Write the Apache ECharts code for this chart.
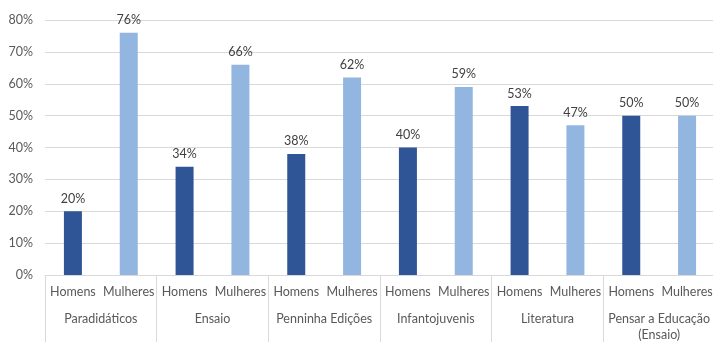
<!DOCTYPE html>
<html>
<head>
<meta charset="utf-8">
<script src="https://cdn.jsdelivr.net/npm/echarts@6/dist/echarts.min.js"></script>
<style>
  html, body { margin: 0; padding: 0; background: #fff; }
  #chart { width: 713px; height: 342px; }
</style>
</head>
<body>
<div id="chart"></div>
<script>
// Share of authors by gender in each publishing line
const groups = ['Paradidáticos', 'Ensaio', 'Penninha Edições', 'Infantojuvenis', 'Literatura', 'Pensar a Educação\n(Ensaio)'];
const genders = ['Homens', 'Mulheres'];
const homens = [20, 34, 38, 40, 53, 50];
const mulheres = [76, 66, 62, 59, 47, 50];
const yTicks = [0, 10, 20, 30, 40, 50, 60, 70, 80];

const colors = { Homens: '#2F5597', Mulheres: '#93B6E0' };
const font = 'Lato, "Open Sans", sans-serif';

// One category per (group, gender) pair, in reading order
const categories = [];
const values = [];
groups.forEach((g, i) => {
  categories.push(genders[0]);
  values.push({ value: homens[i], itemStyle: { color: colors.Homens } });
  categories.push(genders[1]);
  values.push({ value: mulheres[i], itemStyle: { color: colors.Mulheres } });
});

const chart = echarts.init(document.getElementById('chart'), null, { renderer: 'canvas' });
chart.setOption({
  animation: false,
  grid: { left: 45, right: -2, top: 20, bottom: 67, containLabel: false, outerBoundsMode: 'none' },
  xAxis: [
    {
      type: 'category',
      data: categories,
      position: 'bottom',
      axisLine: { show: true, lineStyle: { color: '#D9D9D9', width: 1 } },
      axisTick: { show: false },
      axisLabel: { interval: 0, margin: 10, color: '#595959', fontFamily: font, fontSize: 12.5 }
    },
    {
      type: 'category',
      data: groups,
      position: 'bottom',
      axisLine: { show: false },
      axisTick: { show: true, length: 67, lineStyle: { color: '#D9D9D9', width: 1 } },
      axisLabel: { interval: 0, margin: 36, color: '#595959', fontFamily: font, fontSize: 12.5, lineHeight: 16 }
    }
  ],
  yAxis: {
    type: 'value',
    min: yTicks[0],
    max: yTicks[yTicks.length - 1],
    interval: 10,
    axisLine: { show: false },
    axisTick: { show: false },
    splitLine: { lineStyle: { color: '#D9D9D9', width: 1 } },
    axisLabel: { margin: 12, color: '#595959', fontFamily: font, fontSize: 12.5, formatter: '{value}%' }
  },
  series: [
    {
      type: 'bar',
      xAxisIndex: 0,
      data: values,
      barWidth: 18,
      label: {
        show: true,
        position: 'top',
        distance: 6,
        color: '#404040',
        fontFamily: font,
        fontSize: 12.5,
        formatter: p => p.value + '%'
      }
    }
  ]
});
</script>
</body>
</html>
